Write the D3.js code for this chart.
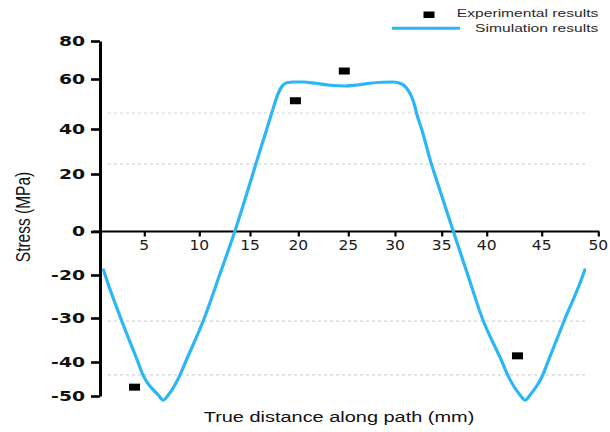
<!DOCTYPE html>
<html>
<head>
<meta charset="utf-8">
<script src="https://cdn.jsdelivr.net/npm/d3@7"></script>
<style>
  html, body { margin: 0; padding: 0; background: #fff; }
  svg { display: block; }
</style>
</head>
<body>
<svg id="chart" width="610" height="432"></svg>
<script>
// Simulated stress along the path (mm, MPa)
const simDistance = [0.4, 0.58, 2.33, 4.28, 4.85, 6.27, 6.73, 7.18, 8.25, 8.75, 10.5, 12.0, 13.5,
  15.29, 15.6, 16.74, 17.25, 17.93, 18.28, 18.8, 19.5, 20.5, 21.7, 23.2, 24.7, 26.0, 27.3, 28.6, 29.8,
  30.72, 31.25, 31.78, 32.14, 32.3, 32.85, 33.9, 34.24, 36.3, 37.9, 39.5, 41.4, 41.9, 43.03, 43.5,
  43.94, 45.1, 45.54, 47.08, 48.65, 48.8];
const simStress = [-17.7, -20, -30, -40, -43.8, -49.7, -51.2, -49.7, -43.8, -40, -30, -20, 0,
  20, 24.4, 40, 46.4, 54.3, 56.9, 58.5, 58.8, 58.8, 58.3, 57.5, 57.2, 57.6, 58.3, 58.7, 58.8,
  58.0, 56.3, 52.9, 48.9, 46.4, 40, 24.4, 20, 0, -20, -30, -40, -43.8, -49.7, -51.2,
  -49.7, -43.8, -40, -30, -20, -17.7];

// Measured stress
const expDistance = [3.9, 19.7, 24.6, 42.8];
const expStress = [-47.4, 51.3, 64.2, -38.6];

// Axis ticks and dotted reference lines
const xTickValues = [5, 10, 15, 20, 25, 30, 35, 40, 45, 50];
const yTickValues = [80, 60, 40, 20, 0, -20, -30, -40, -50];
const gridStress = [46.4, 24.4, -30.7, -43.8];

const svg = d3.select("#chart");

// Both axes use uneven tick spacing, so the scales are piecewise linear.
const x = d3.scaleLinear()
  .domain([0, ...xTickValues])
  .range([100, 144.3, 199.3, 250, 298.3, 348.3, 395, 441.7, 486.7, 541.7, 598.3]);
const y = d3.scaleLinear()
  .domain(yTickValues)
  .range([41, 79, 129, 174, 231.5, 275, 318, 362, 396]);

// Text helper: labels are drawn horizontally widened
function label(parent, px, py, str, sx, opts) {
  const t = parent.append("text")
    .attr("transform", `translate(${px},${py}) scale(${sx},1)` + (opts.rotate ? ` rotate(${opts.rotate})` : ""))
    .attr("text-anchor", opts.anchor || "start")
    .attr("font-family", opts.family || "'Liberation Sans', Arial, sans-serif")
    .attr("font-size", opts.size || 12)
    .attr("font-weight", opts.weight || "normal")
    .attr("fill", opts.fill || "#222")
    .text(str);
  if (opts.dy) t.attr("dy", opts.dy);
  return t;
}

// Dotted reference lines
svg.append("g").selectAll("line")
  .data(gridStress)
  .join("line")
  .attr("x1", 108).attr("x2", 587)
  .attr("y1", d => y(d)).attr("y2", d => y(d))
  .attr("stroke", "#d4d4d4")
  .attr("stroke-width", 1.2)
  .attr("stroke-dasharray", "3,3");

// Y axis
const yAxis = svg.append("g")
  .attr("transform", "translate(100,0)")
  .call(d3.axisLeft(y).tickValues(yTickValues).tickSize(9).tickSizeOuter(0).tickFormat(""));
yAxis.select(".domain").attr("stroke", "#000").attr("stroke-width", 3);
yAxis.selectAll(".tick line").attr("stroke", "#000").attr("stroke-width", 2.6);

yTickValues.forEach(v => {
  label(svg, 85, y(v), String(v), 1.38, {
    anchor: "end", dy: "0.36em", size: 13.6, weight: "bold",
    family: "'DejaVu Sans', Verdana, sans-serif", fill: "#111"
  });
});

// X axis along zero stress
const xAxis = svg.append("g")
  .attr("transform", `translate(0,${y(0)})`)
  .call(d3.axisBottom(x).tickValues(xTickValues).tickSize(5).tickSizeOuter(0).tickFormat(""));
xAxis.select(".domain").remove();
xAxis.selectAll(".tick line").attr("stroke", "#000").attr("stroke-width", 2.2);
xAxis.append("line")
  .attr("x1", 93).attr("x2", x(50) + 1)
  .attr("y1", 0).attr("y2", 0)
  .attr("stroke", "#000").attr("stroke-width", 2.2);

xTickValues.forEach(v => {
  label(svg, x(v), y(0) + 18, String(v), 1.15, {
    anchor: "middle", size: 13.5, family: "'DejaVu Sans', Verdana, sans-serif", fill: "#1a1a1a"
  });
});

// Simulation curve
const simPoints = simDistance.map((d, i) => [d, simStress[i]]);
svg.append("path")
  .datum(simPoints)
  .attr("fill", "none")
  .attr("stroke", "#2cb6f5")
  .attr("stroke-width", 3.2)
  .attr("stroke-linejoin", "round")
  .attr("stroke-linecap", "round")
  .attr("d", d3.line().x(d => x(d[0])).y(d => y(d[1])).curve(d3.curveMonotoneX));

// Experimental points
const expPoints = expDistance.map((d, i) => [d, expStress[i]]);
svg.append("g").selectAll("rect")
  .data(expPoints)
  .join("rect")
  .attr("x", d => x(d[0]) - 5.5)
  .attr("y", d => y(d[1]) - 3.5)
  .attr("width", 11)
  .attr("height", 7)
  .attr("fill", "#000");

// Axis titles
label(svg, 339, 422, "True distance along path (mm)", 1.33, { anchor: "middle", size: 15, fill: "#111" });
label(svg, 30, 217, "Stress (MPa)", 1.3, { anchor: "middle", size: 15.5, fill: "#111", rotate: -90 });

// Legend
const legend = svg.append("g");
legend.append("rect")
  .attr("x", 423.5).attr("y", 11.5).attr("width", 11).attr("height", 6.5).attr("fill", "#000");
legend.append("line")
  .attr("x1", 392).attr("x2", 460).attr("y1", 28.3).attr("y2", 28.3)
  .attr("stroke", "#2cb6f5").attr("stroke-width", 3);
label(legend, 598.3, 17.3, "Experimental results", 1.42, { anchor: "end", size: 11, fill: "#2a2a2a" });
label(legend, 598.3, 32.3, "Simulation results", 1.42, { anchor: "end", size: 11, fill: "#2a2a2a" });
</script>
</body>
</html>
